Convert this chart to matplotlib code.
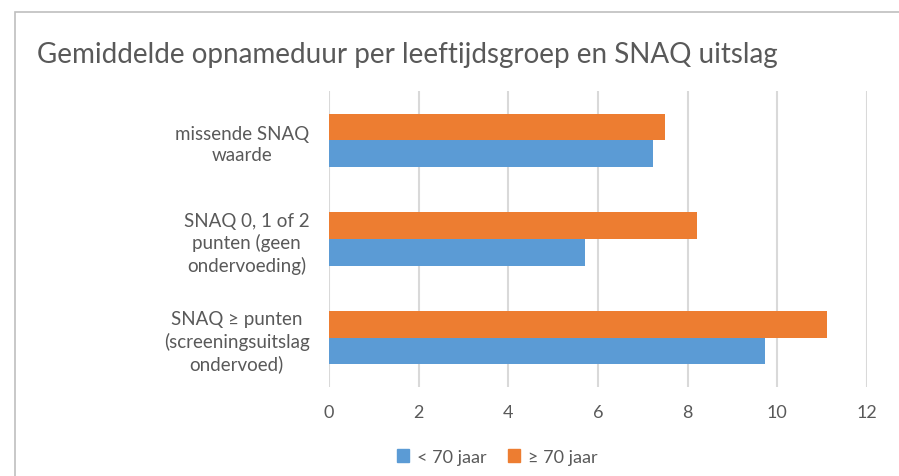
import matplotlib
matplotlib.use("Agg")
import matplotlib.pyplot as plt
from matplotlib.patches import Rectangle, Patch
import numpy as np

plt.rcParams['font.family'] = ['Lato', 'DejaVu Sans']

categories = [
    "SNAQ \u2265 punten\n(screeningsuitslag\nondervoed)",
    "SNAQ 0, 1 of 2\npunten (geen\nondervoeding)",
    "missende SNAQ\nwaarde",
]
under_70 = [9.72, 5.71, 7.22]
over_70 = [11.1, 8.2, 7.49]
series_labels = ["< 70 jaar", "\u2265 70 jaar"]
x_ticks = [0, 2, 4, 6, 8, 10, 12]

blue = "#5B9BD5"
orange = "#ED7D31"
text_gray = "#595959"

fig = plt.figure(figsize=(8.99, 4.77), dpi=100)

# chart frame (cropped on the right and bottom like the screenshot)
fig.patches.append(Rectangle((15 / 899, -0.1), 1.1, 1 - 13 / 477 + 0.1,
                             transform=fig.transFigure, fill=False,
                             edgecolor="#bfbfbf", linewidth=1.2))

ax = fig.add_axes([329 / 899, 1 - 388 / 477, (867 - 329) / 899, (388 - 92) / 477])

y = np.arange(len(categories))
h = 0.27
ax.barh(y - h / 2, under_70, height=h, color=blue, label=series_labels[0], zorder=3)
ax.barh(y + h / 2, over_70, height=h, color=orange, label=series_labels[1], zorder=3)

ax.set_xlim(0, 12)
ax.set_ylim(-0.5, 2.5)
ax.set_xticks(x_ticks)
ax.set_yticks(y)
ax.set_yticklabels(categories, multialignment="center", fontsize=13.5,
                   color=text_gray, linespacing=1.3)
ax.tick_params(axis="x", colors=text_gray, labelsize=13, length=0, pad=12)
ax.tick_params(axis="y", length=0, pad=14)
ax.grid(axis="x", color="#d9d9d9", linewidth=1.5, zorder=0)
for s in ax.spines.values():
    s.set_visible(False)

fig.text(37 / 899, 1 - 55 / 477, "Gemiddelde opnameduur per leeftijdsgroep en SNAQ uitslag",
         fontsize=20, color=text_gray, va="center", ha="left")

handles = [Patch(color=blue), Patch(color=orange)]
fig.legend(handles, series_labels, loc="center", bbox_to_anchor=(497 / 899, 1 - 458 / 477),
           ncol=2, frameon=False, fontsize=13, labelcolor=text_gray,
           handlelength=0.7, handleheight=0.7, handletextpad=0.4, columnspacing=1.2)

fig.savefig("out.png", dpi=100)
